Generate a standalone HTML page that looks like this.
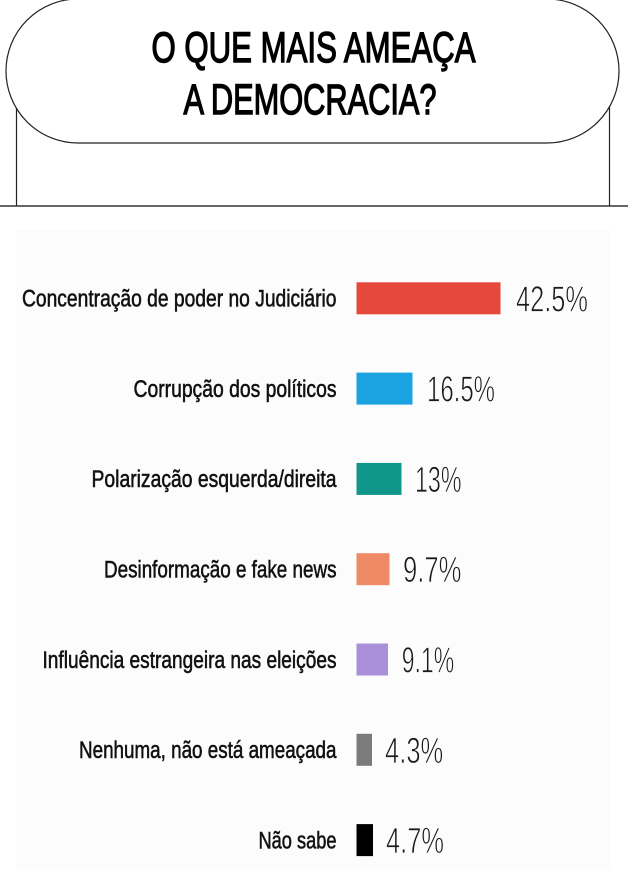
<!DOCTYPE html>
<html><head><meta charset="utf-8"><style>
html,body{margin:0;padding:0;background:#fff;}
svg{display:block;}
</style></head><body>
<svg width="628" height="869" viewBox="0 0 628 869" xmlns="http://www.w3.org/2000/svg">
<rect x="0" y="0" width="628" height="869" fill="#ffffff"/>
<rect x="16" y="230" width="594" height="639" fill="#fcfcfc"/>
<!-- header -->
<line x1="16.5" y1="100" x2="16.5" y2="206" stroke="#222" stroke-width="1.2"/>
<line x1="609.5" y1="100" x2="609.5" y2="206" stroke="#222" stroke-width="1.2"/>
<rect x="6" y="-1" width="613" height="144" rx="72" ry="72" fill="#fff" stroke="#222" stroke-width="1.2"/>
<line x1="0" y1="206" x2="628" y2="206" stroke="#333" stroke-width="1.5"/>
<g font-family="Liberation Sans, sans-serif" font-size="43" fill="#000" stroke="#000" stroke-width="1.4">
<text x="151.5" y="62" textLength="324" lengthAdjust="spacingAndGlyphs">O QUE MAIS AMEAÇA</text>
<text x="183.5" y="114" textLength="253" lengthAdjust="spacingAndGlyphs">A DEMOCRACIA?</text>
</g>
<!-- labels -->
<g font-family="Liberation Sans, sans-serif" font-size="24" fill="#111" stroke="#111" stroke-width="0.55">
<text x="22" y="306.5" textLength="314.5" lengthAdjust="spacingAndGlyphs">Concentração de poder no Judiciário</text>
<text x="133.5" y="396.8" textLength="203" lengthAdjust="spacingAndGlyphs">Corrupção dos políticos</text>
<text x="91.5" y="487" textLength="245" lengthAdjust="spacingAndGlyphs">Polarização esquerda/direita</text>
<text x="104" y="577.5" textLength="232.5" lengthAdjust="spacingAndGlyphs">Desinformação e fake news</text>
<text x="42.5" y="667.8" textLength="294" lengthAdjust="spacingAndGlyphs">Influência estrangeira nas eleições</text>
<text x="79" y="758" textLength="257.5" lengthAdjust="spacingAndGlyphs">Nenhuma, não está ameaçada</text>
<text x="258.5" y="848.3" textLength="78" lengthAdjust="spacingAndGlyphs">Não sabe</text>
</g>
<!-- bars -->
<rect x="356.5" y="282.3" width="144" height="32" fill="#e4493b"/>
<rect x="356.5" y="372.6" width="56" height="32" fill="#1aa3e0"/>
<rect x="356.5" y="462.9" width="45" height="32" fill="#10968a"/>
<rect x="356.5" y="553.2" width="33" height="32" fill="#ee8a66"/>
<rect x="356.5" y="643.5" width="31.5" height="32" fill="#a990d8"/>
<rect x="356.5" y="733.8" width="15.5" height="32" fill="#7b7b7b"/>
<rect x="356.5" y="824.1" width="16.5" height="32" fill="#000000"/>
<!-- values -->
<g font-family="Liberation Sans, sans-serif" font-size="36.5" fill="#1a1a1a" stroke="#fcfcfc" stroke-width="0.8">
<text x="516" y="311.3" textLength="72" lengthAdjust="spacingAndGlyphs">42.5%</text>
<text x="427" y="401.6" textLength="68" lengthAdjust="spacingAndGlyphs">16.5%</text>
<text x="415" y="491.9" textLength="46.5" lengthAdjust="spacingAndGlyphs">13%</text>
<text x="403" y="582.2" textLength="58.5" lengthAdjust="spacingAndGlyphs">9.7%</text>
<text x="401.7" y="672.5" textLength="52.5" lengthAdjust="spacingAndGlyphs">9.1%</text>
<text x="385" y="762.8" textLength="58.3" lengthAdjust="spacingAndGlyphs">4.3%</text>
<text x="386" y="853.1" textLength="58" lengthAdjust="spacingAndGlyphs">4.7%</text>
</g>
</svg>
</body></html>
